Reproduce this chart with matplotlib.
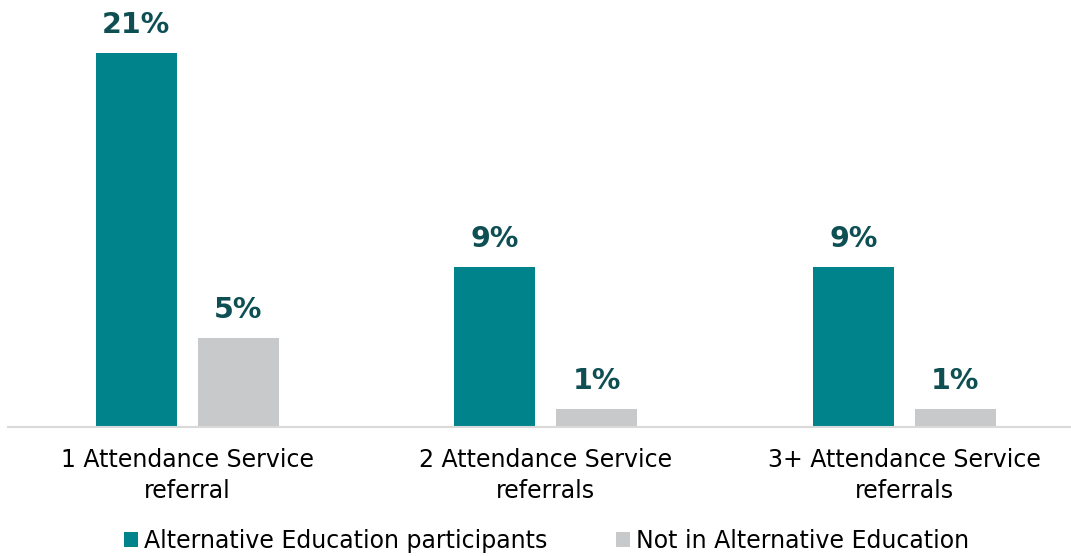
import matplotlib.pyplot as plt
import numpy as np

categories = ["1 Attendance Service\nreferral",
              "2 Attendance Service\nreferrals",
              "3+ Attendance Service\nreferrals"]
alt_ed = [21, 9, 9]
not_alt_ed = [5, 1, 1]
series_names = ["Alternative Education participants",
                "Not in Alternative Education"]

TEAL = "#00838A"
GREY = "#C8C9CB"
LABEL = "#0D4F53"

plt.rcParams['font.family'] = ['DejaVu Sans']

fig = plt.figure(figsize=(10.71, 5.56), dpi=100)
ax = fig.add_axes([8 / 1071, 129 / 556, 1063 / 1071, 427 / 556])

x = np.arange(len(categories))
w = 0.226
off = 0.142
b1 = ax.bar(x - off, alt_ed, w, color=TEAL, label=series_names[0])
b2 = ax.bar(x + off, not_alt_ed, w, color=GREY, label=series_names[1])

for bars in (b1, b2):
    for rect in bars:
        h = rect.get_height()
        ax.annotate(f"{h:.0f}%", (rect.get_x() + rect.get_width() / 2, h),
                    xytext=(0, 10), textcoords="offset points",
                    ha="center", va="bottom", fontsize=20.5,
                    fontweight="bold", color=LABEL)

ax.set_xlim(-0.5, 2.465)
ax.set_ylim(0, 24)
ax.set_yticks([])
ax.set_xticks(x)
ax.set_xticklabels(categories, fontsize=17, linespacing=1.4)
ax.tick_params(axis="x", length=0, pad=15)
for s in ("top", "right", "left"):
    ax.spines[s].set_visible(False)
ax.spines["bottom"].set_color("#D9D9D9")
ax.spines["bottom"].set_linewidth(1.5)

fig.legend(handles=[b1, b2], loc="center", bbox_to_anchor=(0.51, 15 / 556),
           ncol=2, frameon=False, fontsize=17, handlelength=0.6,
           handleheight=0.6, handletextpad=0.25, columnspacing=2.9)

fig.savefig("out.png", dpi=100)
